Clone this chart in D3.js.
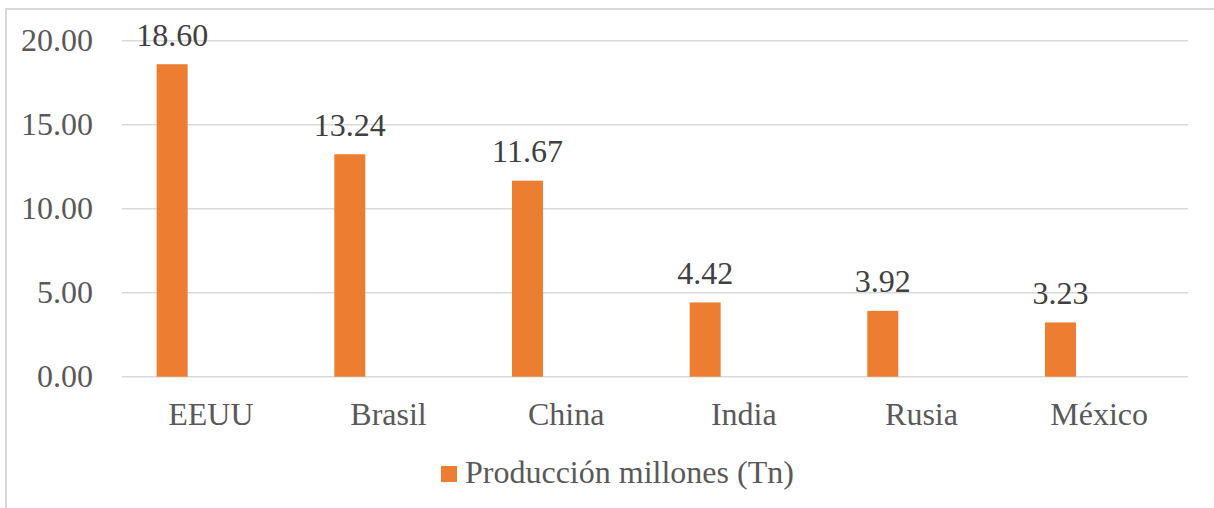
<!DOCTYPE html>
<html><head><meta charset="utf-8">
<script src="https://cdn.jsdelivr.net/npm/d3@7"></script>
<style>html,body{margin:0;padding:0;background:#fff;}svg{display:block;}</style>
</head><body>
<script>
const categories = ["EEUU","Brasil","China","India","Rusia","México"];
const values = [18.60,13.24,11.67,4.42,3.92,3.23];
const yTicks = [0,5,10,15,20];
const seriesName = "Producción millones (Tn)";

(function(){
const W = 1214, H = 508;
const font = "Liberation Serif, Times New Roman, serif";
const fs = 32;
const svg = d3.select("body").append("svg").attr("width",W).attr("height",H);
svg.append("rect").attr("width",W).attr("height",H).attr("fill","#fff");
svg.append("path").attr("d","M6,"+(H+2)+"V9H"+(W+2)).attr("fill","none").attr("stroke","#d9d9d9").attr("stroke-width",2);

const pLeft = 122, pRight = 1188, pTop = 40.7, pBottom = 376.7;
const x = d3.scaleBand().domain(categories).range([pLeft,pRight]).padding(0);
const y = d3.scaleLinear().domain([0,20]).range([pBottom,pTop]);

const g = svg.append("g");
g.selectAll("line.grid").data(yTicks).join("line")
  .attr("x1",pLeft).attr("x2",pRight)
  .attr("y1",d=>y(d)).attr("y2",d=>y(d))
  .attr("stroke","#d9d9d9").attr("stroke-width",1.5);

g.selectAll("text.ytick").data(yTicks).join("text")
  .attr("x",93).attr("y",d=>y(d)+10.5)
  .attr("text-anchor","end").attr("font-family",font).attr("font-size",fs)
  .attr("fill","#595959").text(d=>d3.format(".2f")(d));

const bw = x.bandwidth()*0.1745;
const boff = x.bandwidth()*0.195;
g.selectAll("rect.bar").data(values).join("rect")
  .attr("x",(d,i)=>x(categories[i])+boff)
  .attr("width",bw)
  .attr("y",d=>y(d)).attr("height",d=>y(0)-y(d))
  .attr("fill","#ED7D31");

g.selectAll("text.val").data(values).join("text")
  .attr("x",(d,i)=>x(categories[i])+boff+bw/2)
  .attr("y",d=>y(d)-18.5)
  .attr("text-anchor","middle").attr("font-family",font).attr("font-size",fs)
  .attr("fill","#404040").text(d=>d3.format(".2f")(d));

g.selectAll("text.cat").data(categories).join("text")
  .attr("x",d=>x(d)+x.bandwidth()/2).attr("y",425)
  .attr("text-anchor","middle").attr("font-family",font).attr("font-size",fs)
  .attr("fill","#595959").text(d=>d);

svg.append("rect").attr("x",441).attr("y",466).attr("width",16).attr("height",16).attr("fill","#ED7D31");
svg.append("text").attr("x",465).attr("y",483).attr("font-family",font).attr("font-size",fs)
  .attr("fill","#595959").text(seriesName);
})();
</script>
</body></html>
